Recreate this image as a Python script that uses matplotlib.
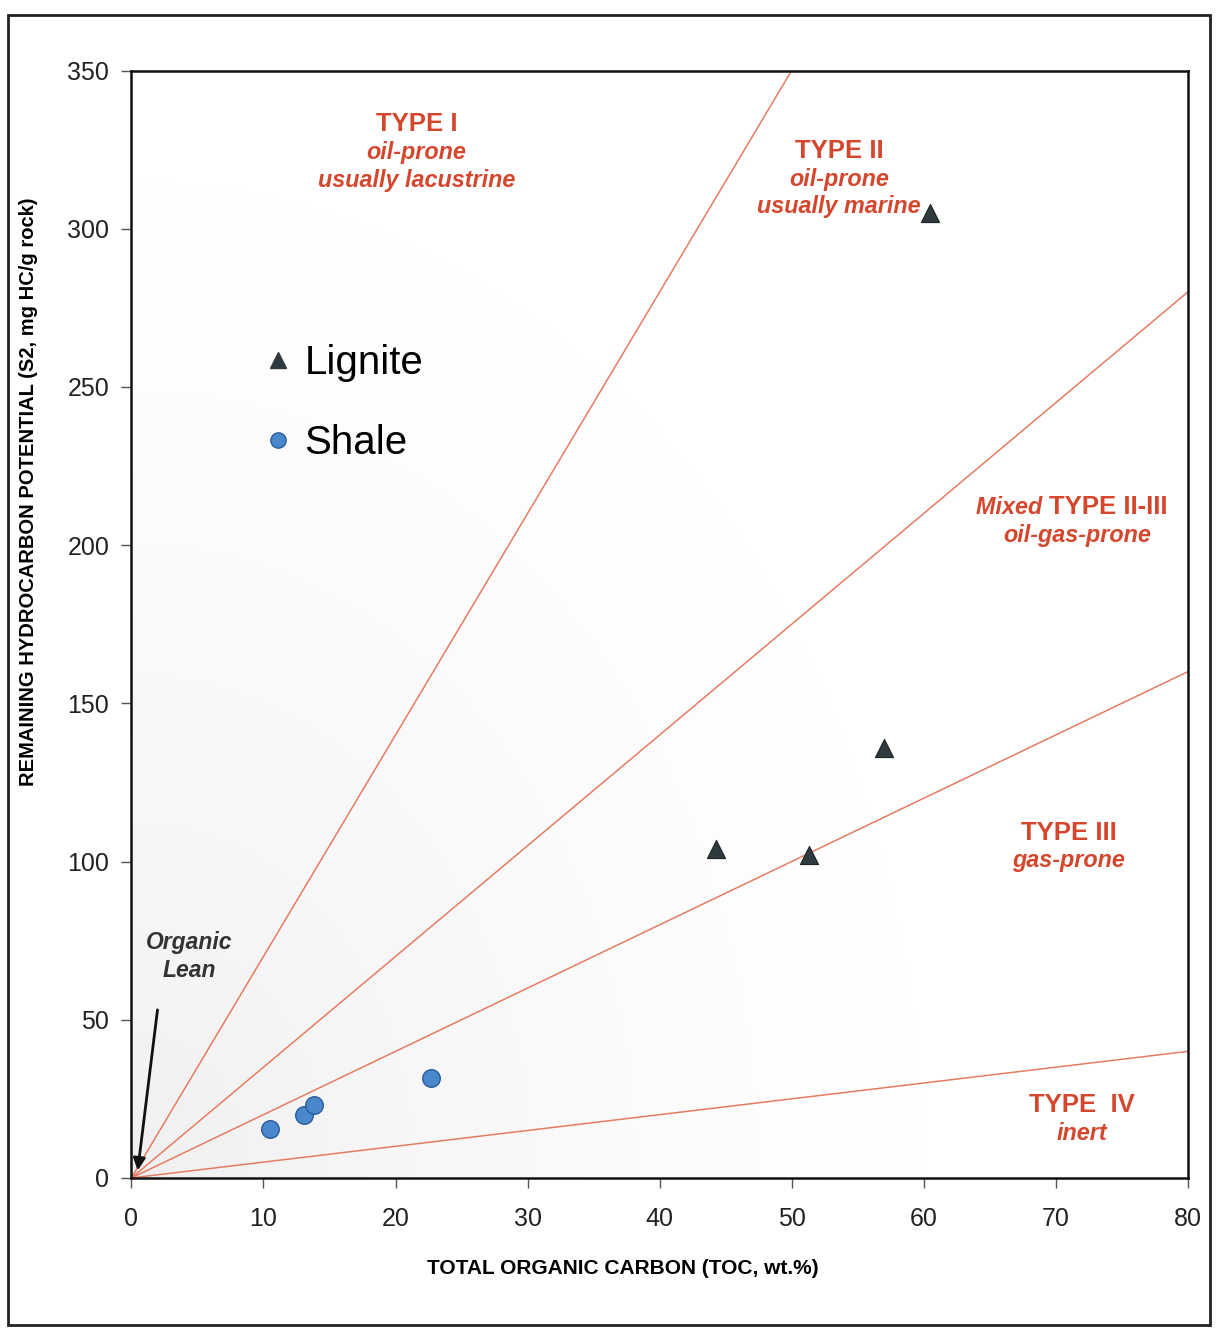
import matplotlib.pyplot as plt
import numpy as np
from matplotlib.lines import Line2D
from matplotlib.patches import Rectangle

plt.rcParams['font.family'] = ['Liberation Sans', 'DejaVu Sans']

# kerogen type boundary lines (HI = S2/TOC*100 -> slope)
boundary_slopes = [7.0, 3.5, 2.0, 0.5]

lignite_toc = [60.5, 57.0, 44.3, 51.3]
lignite_s2 = [305, 136, 104, 102]

shale_toc = [10.5, 13.1, 13.8, 22.7]
shale_s2 = [15.5, 19.8, 23.2, 31.5]

red = '#d5472d'
line_red = '#e57c62'

fig = plt.figure(figsize=(12.17, 13.31), dpi=100)
ax = fig.add_axes([0.108, 0.115, 0.868, 0.832])

# faint grey shading near the origin, like the scanned original
gx, gy = np.meshgrid(np.linspace(0, 1, 200), np.linspace(0, 1, 200))
shade = np.clip(1.0 - np.hypot(gx * 1.2, gy * 1.0), 0, 1) ** 1.5
ax.imshow(shade, cmap='Greys', vmin=0, vmax=8, origin='lower',
          extent=(0, 80, 0, 350), aspect='auto', zorder=0, interpolation='bilinear')

xs = np.array([0, 80])
for k in boundary_slopes:
    ax.plot(xs, k * xs, color=line_red, lw=1.1, zorder=1)

ax.scatter(lignite_toc, lignite_s2, marker='^', s=170, color='#2f3a3e',
           edgecolor='#1e2426', lw=0.8, zorder=3)
ax.scatter(shale_toc, shale_s2, marker='o', s=160, color='#4a88cc',
           edgecolor='#2a5c9c', lw=1.0, zorder=3)

ax.set_xlim(0, 80)
ax.set_ylim(0, 350)
ax.set_xticks(np.arange(0, 81, 10))
ax.set_yticks(np.arange(0, 351, 50))
ax.tick_params(labelsize=18, length=7, width=1, colors='#555555', labelcolor='#222222')
ax.tick_params(axis='x', pad=14)
ax.tick_params(axis='y', pad=9)
for s in ax.spines.values():
    s.set_linewidth(1.8)
    s.set_color('#111111')

ax.set_xlabel('TOTAL ORGANIC CARBON (TOC, wt.%)', fontsize=15, fontweight='bold')
ax.set_ylabel('REMAINING HYDROCARBON POTENTIAL (S2, mg HC/g rock)', fontsize=14.5,
              fontweight='bold')
ax.xaxis.set_label_coords(0.465, -0.073)
ax.yaxis.set_label_coords(-0.088, 0.62)

def label(x, y, lines):
    for i, (txt, style) in enumerate(lines):
        ax.text(x, y - i * 8.8, txt, color=red, fontweight='bold', style=style,
                fontsize=18.5 if i == 0 else 16.8, ha='center', va='center', zorder=4)

label(21.6, 333, [('TYPE I', 'normal'), ('oil-prone', 'italic'), ('usually lacustrine', 'italic')])
label(53.6, 324.5, [('TYPE II', 'normal'), ('oil-prone', 'italic'), ('usually marine', 'italic')])
ax.text(69.5, 212, 'Mixed ', color=red, fontsize=16.8, fontweight='bold', style='italic',
        ha='right', va='center')
ax.text(69.5, 212, 'TYPE II-III', color=red, fontsize=18.5, fontweight='bold',
        ha='left', va='center')
ax.text(71.6, 203, 'oil-gas-prone', color=red, fontsize=16.8, fontweight='bold',
        style='italic', ha='center', va='center')
label(71.0, 109, [('TYPE III', 'normal'), ('gas-prone', 'italic')])
label(72.0, 23, [('TYPE  IV', 'normal'), ('inert', 'italic')])

ax.text(4.4, 70, 'Organic\nLean', color='#333333', fontsize=16.5, fontweight='bold',
        style='italic', ha='center', va='center', linespacing=1.25)
ax.annotate('', xy=(0.45, 1.5), xytext=(2.0, 54),
            arrowprops=dict(arrowstyle='-|>', color='#111111', lw=2, mutation_scale=18))

handles = [Line2D([], [], ls='none', marker='^', ms=11, color='#2f3a3e', label='Lignite'),
           Line2D([], [], ls='none', marker='o', ms=11, color='#4a88cc',
                  markeredgecolor='#2a5c9c', label='Shale')]
ax.legend(handles=handles, loc='upper left', bbox_to_anchor=(0.097, 0.782), frameon=False,
          fontsize=29, labelspacing=1.05, handlelength=0.6, handletextpad=0.35,
          borderpad=0.3)

fig.add_artist(Rectangle((0.0066, 0.0045), 0.988, 0.984, transform=fig.transFigure,
                         fill=False, lw=2, ec='#222222'))

fig.savefig('out.png', dpi=100)
